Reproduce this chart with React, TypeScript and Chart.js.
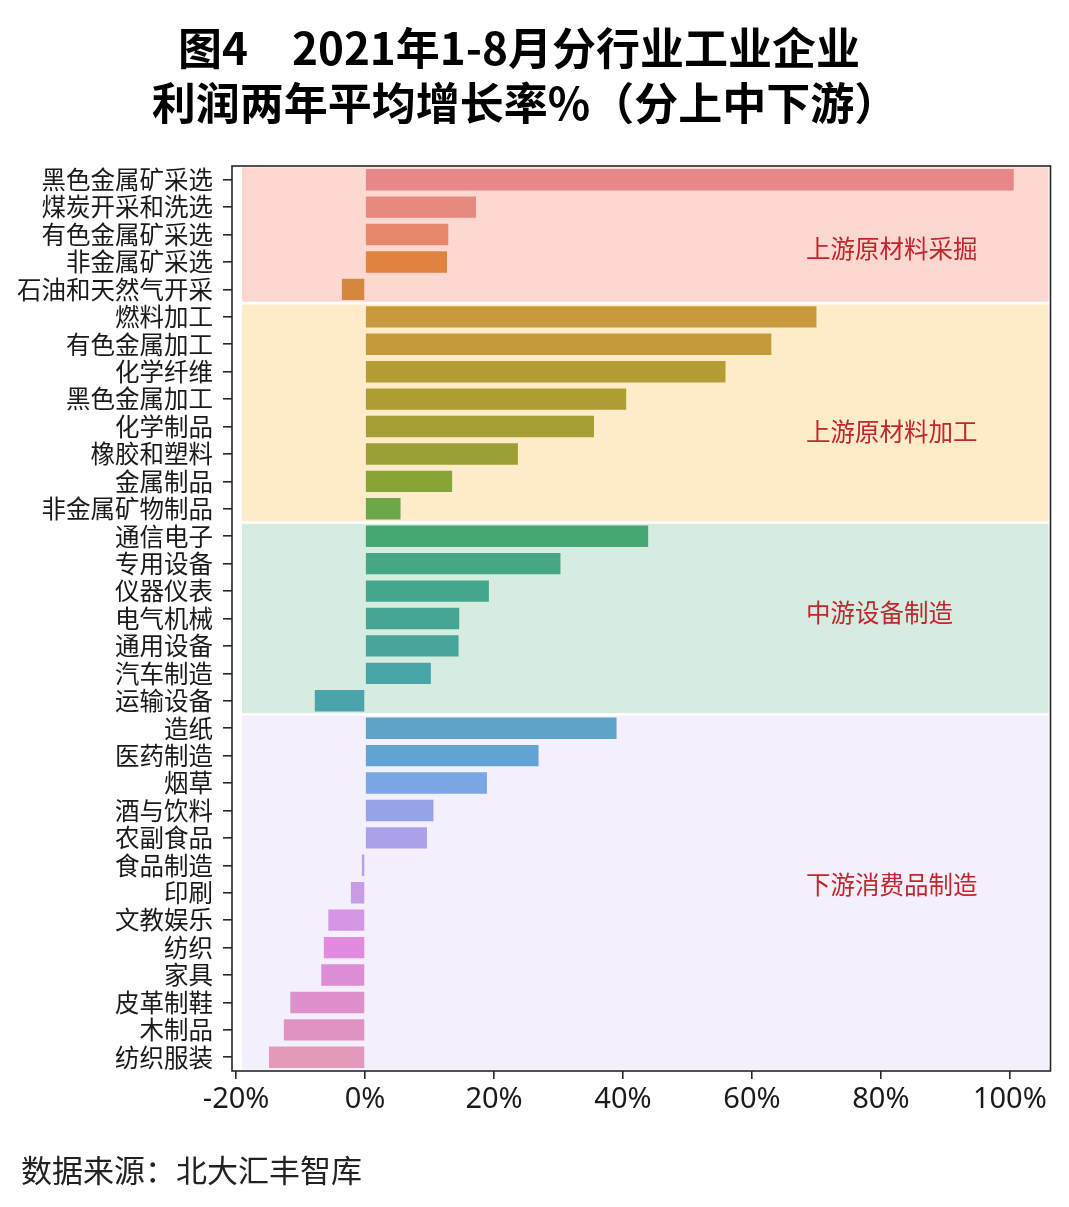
import React, { useEffect, useRef } from "react";
import { Chart, registerables } from "chart.js";

Chart.register(...registerables);

const categories = [
  "黑色金属矿采选", "煤炭开采和洗选", "有色金属矿采选", "非金属矿采选", "石油和天然气开采",
  "燃料加工", "有色金属加工", "化学纤维", "黑色金属加工", "化学制品", "橡胶和塑料", "金属制品", "非金属矿物制品",
  "通信电子", "专用设备", "仪器仪表", "电气机械", "通用设备", "汽车制造", "运输设备",
  "造纸", "医药制造", "烟草", "酒与饮料", "农副食品", "食品制造", "印刷", "文教娱乐", "纺织", "家具", "皮革制鞋", "木制品", "纺织服装",
];

const values = [
  100.6, 17.2, 12.9, 12.7, -3.6,
  70.0, 63.0, 55.9, 40.5, 35.5, 23.7, 13.5, 5.5,
  43.9, 30.3, 19.2, 14.6, 14.5, 10.2, -7.8,
  39.0, 26.9, 18.9, 10.6, 9.6, -0.5, -2.2, -5.7, -6.4, -6.8, -11.6, -12.6, -14.9,
];

const barColors = [
  "#e8878a", "#e8897f", "#e7876b", "#e0843f", "#d3873f",
  "#c99a3c", "#c09b36", "#b59d34", "#ad9d34", "#a49e35", "#9aa035", "#86a534", "#6aa84a",
  "#45a874", "#45a882", "#45a68e", "#46a695", "#47a59c", "#47a5a5", "#4aa4ab",
  "#5ca5c8", "#62a3d6", "#7aa6e3", "#94a3e6", "#aaa1e8", "#b79ee8", "#c79be5", "#d496e4", "#e08ae0", "#dd8dd6", "#df8fcb", "#e092c3", "#e499ba",
];

const groupNames = ["上游原材料采掘", "上游原材料加工", "中游设备制造", "下游消费品制造"];
const groupStart = [0, 5, 13, 20];
const groupEnd = [4, 12, 19, 32];
const groupLabelRow = [2.5, 9.2, 15.8, 25.7];
const groupLabelValue = 68.4;
const bandColors = ["#fcd8d0", "#feebca", "#d6ece0", "#f4effc"];
const bandFrom = -19.1;
const bandTo = 106.0;

const xTicks = [-20, 0, 20, 40, 60, 80, 100];
const xMin = -20.64;
const xMax = 106.3;

const titleLines = ["图4\u30002021年1-8月分行业工业企业", "利润两年平均增长率%（分上中下游）"];
const sourceText = "数据来源：北大汇丰智库";

const decorPlugin = {
  id: "decor",
  beforeDatasetsDraw(chart: any) {
    const { ctx, scales } = chart;
    const x = scales.x;
    const y = scales.y;
    ctx.save();
    const xl = x.getPixelForValue(bandFrom);
    const xr = x.getPixelForValue(bandTo);
    for (let g = 0; g < groupNames.length; g++) {
      const yt = y.getPixelForValue(groupStart[g] - 0.45);
      const yb = y.getPixelForValue(groupEnd[g] + 0.45);
      ctx.fillStyle = bandColors[g];
      ctx.fillRect(xl, yt, xr - xl, yb - yt);
    }
    ctx.fillStyle = "#c0272d";
    ctx.font = '24.5px "Noto Sans CJK SC"';
    ctx.textAlign = "left";
    ctx.textBaseline = "middle";
    for (let g = 0; g < groupNames.length; g++) {
      ctx.fillText(groupNames[g], x.getPixelForValue(groupLabelValue), y.getPixelForValue(groupLabelRow[g]));
    }
    ctx.restore();
  },
  afterDraw(chart: any) {
    const { ctx, chartArea } = chart;
    ctx.save();
    ctx.strokeStyle = "#262626";
    ctx.lineWidth = 1.6;
    ctx.strokeRect(chartArea.left, chartArea.top, chartArea.right - chartArea.left, chartArea.bottom - chartArea.top);
    ctx.fillStyle = "#000";
    ctx.font = 'bold 44px "Noto Sans CJK SC"';
    ctx.textAlign = "center";
    ctx.textBaseline = "middle";
    ctx.fillText(titleLines[0], 519, 48);
    ctx.fillText(titleLines[1], 525, 103);
    ctx.fillStyle = "#222";
    ctx.font = '31px "Noto Sans CJK SC"';
    ctx.textAlign = "left";
    ctx.fillText(sourceText, 21, 1170);
    ctx.restore();
  },
};

export default function App() {
  const ref = useRef<HTMLCanvasElement | null>(null);
  useEffect(() => {
    if (!ref.current) return;
    const chart = new Chart(ref.current, {
      type: "bar",
      data: {
        labels: categories,
        datasets: [
          {
            data: values,
            backgroundColor: barColors,
            borderWidth: 0,
            barPercentage: 0.78,
            categoryPercentage: 1,
          },
        ],
      },
      options: {
        indexAxis: "y",
        animation: false,
        responsive: false,
        maintainAspectRatio: false,
        layout: { padding: { left: 0, right: 18.5, top: 166, bottom: 0 } },
        plugins: { legend: { display: false }, tooltip: { enabled: false }, title: { display: false } },
        scales: {
          x: {
            type: "linear",
            min: xMin,
            max: xMax,
            afterBuildTicks: (s: any) => {
              s.ticks = xTicks.map((v) => ({ value: v }));
            },
            afterFit: (s: any) => {
              s.height = 136;
            },
            border: { display: false },
            grid: { display: true, drawOnChartArea: false, drawTicks: true, tickLength: 8, tickColor: "#262626", lineWidth: 1.6 },
            ticks: {
              callback: (v: any) => v + "%",
              color: "#1a1a1a",
              font: { family: '"Noto Sans"', size: 29 },
              padding: 3,
              maxRotation: 0,
              autoSkip: false,
            },
          },
          y: {
            type: "category",
            afterFit: (s: any) => {
              s.width = 232;
            },
            border: { display: false },
            grid: { display: true, offset: false, drawOnChartArea: false, drawTicks: true, tickLength: 9, tickColor: "#262626", lineWidth: 1.6 },
            ticks: {
              color: "#1a1a1a",
              font: { family: '"Noto Sans CJK SC"', size: 24.5 },
              padding: 10,
              autoSkip: false,
            },
          },
        },
      },
      plugins: [decorPlugin],
    });
    return () => chart.destroy();
  }, []);
  return (
    <div style={{ position: "absolute", left: 0, top: 0, width: 1069, height: 1207, background: "#fff" }}>
      <canvas ref={ref} width={1069} height={1207} style={{ display: "block", width: 1069, height: 1207 }} />
    </div>
  );
}
